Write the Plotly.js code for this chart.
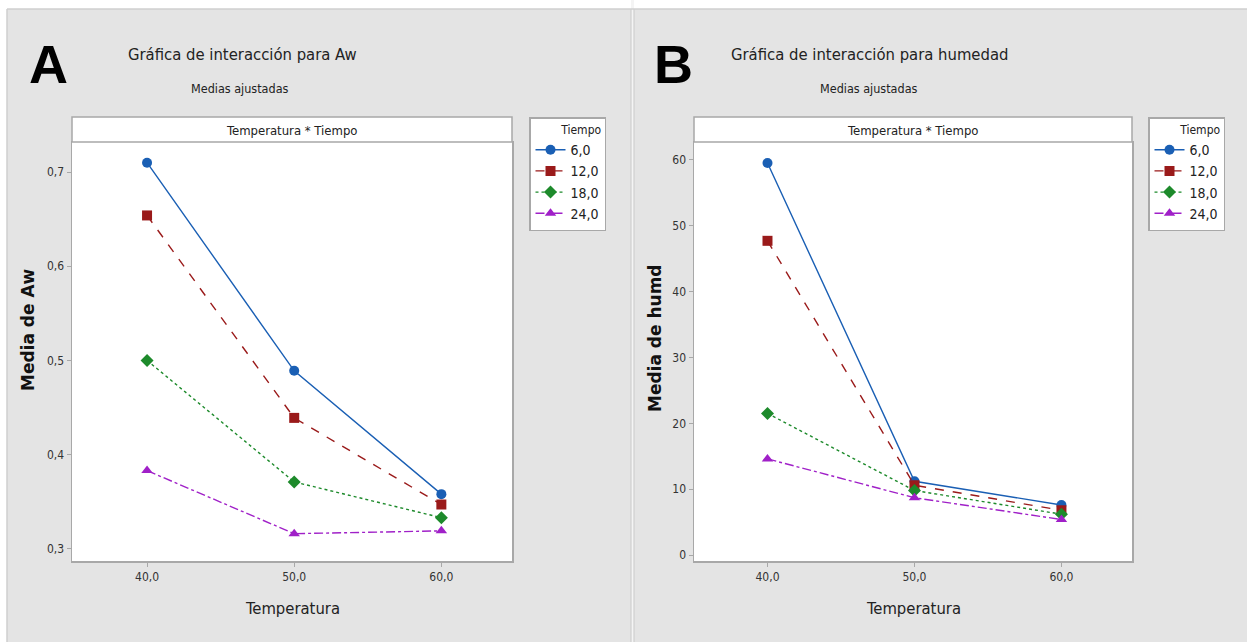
<!DOCTYPE html>
<html>
<head>
<meta charset="utf-8">
<script src="https://cdn.plot.ly/plotly-3.0.1.min.js"></script>
<style>html,body{margin:0;padding:0;background:#fff;}#chart{width:1247px;height:642px;}</style>
</head>
<body>
<div id="chart"></div>
<script>
// ---- data ----
const temperatura = [40, 50, 60];
const tiempoLabels = ['6,0', '12,0', '18,0', '24,0'];
const aw6  = [0.710, 0.489, 0.358];
const aw12 = [0.654, 0.439, 0.347];
const aw18 = [0.500, 0.371, 0.333];
const aw24 = [0.383, 0.316, 0.319];
const hum6  = [59.5, 11.2, 7.6];
const hum12 = [47.7, 10.6, 6.8];
const hum18 = [21.5, 9.8, 6.2];
const hum24 = [14.6, 8.7, 5.4];
const xTicks = [40, 50, 60];
const awTicks = [0.3, 0.4, 0.5, 0.6, 0.7];
const humTicks = [0, 10, 20, 30, 40, 50, 60];

// ---- style ----
const W = 1247, H = 642;
const px = v => v / W, py = v => 1 - v / H;
const narrow = 'Liberation Sans Narrow, DejaVu Sans Condensed, Roboto Condensed, Arial Narrow, sans-serif';
const colors = ['#1a5fb4', '#9a1a1a', '#1d8a2b', '#a020c8'];
const symbols = ['circle', 'square', 'diamond', 'triangle-up'];
const dashes = ['solid', 'dash', 'dot', 'dashdot'];
const awSeries = [aw6, aw12, aw18, aw24];
const humSeries = [hum6, hum12, hum18, hum24];

const traces = [];
awSeries.forEach((ys, i) => traces.push({
  x: temperatura, y: ys, xaxis: 'x', yaxis: 'y', type: 'scatter', mode: 'lines+markers',
  name: tiempoLabels[i], legend: 'legend',
  line: {color: colors[i], width: 1.4, dash: dashes[i]},
  marker: {color: colors[i], symbol: symbols[i], size: 10}
}));
humSeries.forEach((ys, i) => traces.push({
  x: temperatura, y: ys, xaxis: 'x2', yaxis: 'y2', type: 'scatter', mode: 'lines+markers',
  name: tiempoLabels[i], legend: 'legend2',
  line: {color: colors[i], width: 1.4, dash: dashes[i]},
  marker: {color: colors[i], symbol: symbols[i], size: 10}
}));

const axisCommon = {
  showline: true, mirror: true, linecolor: '#a8a8a8', linewidth: 1.5,
  ticks: 'outside', ticklen: 4, tickcolor: '#a8a8a8', tickwidth: 1,
  showgrid: false, zeroline: false, fixedrange: true,
  tickfont: {family: narrow, size: 12, color: '#333'}
};
const yDom = [py(561), py(142)];

function ann(text, x, y, size, extra) {
  return Object.assign({text: text, x: px(x), y: py(y), xref: 'paper', yref: 'paper', showarrow: false,
    xanchor: 'center', yanchor: 'middle', font: {family: narrow, size: size, color: '#222'}}, extra || {});
}

const legendCommon = {
  xanchor: 'left', yanchor: 'top',
  bgcolor: '#ffffff', bordercolor: '#a8a8a8', borderwidth: 1.5,
  font: {family: narrow, size: 14, color: '#222'},
  title: {text: 'Tiempo', side: 'top right', font: {family: narrow, size: 12, color: '#222'}},
  itemwidth: 30
};

const layout = {
  width: W, height: H,
  margin: {l: 0, r: 0, t: 0, b: 0},
  paper_bgcolor: '#e4e4e4', plot_bgcolor: '#ffffff',
  separators: ',.',
  showlegend: true,
  xaxis: Object.assign({}, axisCommon, {domain: [px(72), px(512)], range: [34.9, 64.8], tickvals: xTicks, tickformat: '.1f', anchor: 'y'}),
  yaxis: Object.assign({}, axisCommon, {domain: yDom, range: [0.287, 0.732], tickvals: awTicks, tickformat: '.1f', anchor: 'x'}),
  xaxis2: Object.assign({}, axisCommon, {domain: [px(694), px(1132)], range: [35.0, 64.8], tickvals: xTicks, tickformat: '.1f', anchor: 'y2'}),
  yaxis2: Object.assign({}, axisCommon, {domain: yDom, range: [-0.9, 62.7], tickvals: humTicks, tickformat: 'd', anchor: 'x2'}),
  legend: Object.assign({}, legendCommon, {x: px(529), y: py(117)}),
  legend2: Object.assign({}, legendCommon, {x: px(1148), y: py(117)}),
  shapes: [
    {type: 'rect', xref: 'paper', yref: 'paper', x0: 0, x1: 1, y0: py(9), y1: 1, fillcolor: '#ffffff', line: {width: 0}, layer: 'below'},
    {type: 'rect', xref: 'paper', yref: 'paper', x0: 0, x1: px(7), y0: 0, y1: 1, fillcolor: '#ffffff', line: {width: 0}, layer: 'below'},
    {type: 'rect', xref: 'paper', yref: 'paper', x0: px(631), x1: px(634), y0: 0, y1: 1, fillcolor: '#f4f4f4', line: {width: 0}, layer: 'below'},
    {type: 'line', xref: 'paper', yref: 'paper', x0: px(7), x1: px(7), y0: 0, y1: py(9), line: {color: '#cfcfcf', width: 1.5}, layer: 'below'},
    {type: 'line', xref: 'paper', yref: 'paper', x0: px(7), x1: 1, y0: py(9), y1: py(9), line: {color: '#cfcfcf', width: 1.5}, layer: 'below'},
    {type: 'line', xref: 'paper', yref: 'paper', x0: px(631), x1: px(631), y0: 0, y1: py(9), line: {color: '#cfcfcf', width: 1.2}, layer: 'below'},
    {type: 'line', xref: 'paper', yref: 'paper', x0: px(634), x1: px(634), y0: 0, y1: py(9), line: {color: '#cfcfcf', width: 1.2}, layer: 'below'},
    {type: 'rect', xref: 'paper', yref: 'paper', x0: px(72), x1: px(512), y0: py(142), y1: py(117), fillcolor: '#ffffff', line: {color: '#a8a8a8', width: 1.5}},
    {type: 'rect', xref: 'paper', yref: 'paper', x0: px(694), x1: px(1132), y0: py(142), y1: py(117), fillcolor: '#ffffff', line: {color: '#a8a8a8', width: 1.5}}
  ],
  annotations: [
    ann('<b>A</b>', 48, 64, 54, {font: {family: 'Liberation Sans, Arial, sans-serif', size: 54, color: '#000'}}),
    ann('<b>B</b>', 673, 64, 54, {font: {family: 'Liberation Sans, Arial, sans-serif', size: 54, color: '#000'}}),
    ann('Gráfica de interacción para Aw', 242, 55, 16.5),
    ann('Medias ajustadas', 240, 88, 12.5),
    ann('Gráfica de interacción para humedad', 869, 55, 16.5),
    ann('Medias ajustadas', 869, 88, 12.5),
    ann('Temperatura * Tiempo', 292, 130, 13),
    ann('Temperatura * Tiempo', 913, 130, 13),
    ann('Temperatura', 292, 608, 16.5),
    ann('Temperatura', 913, 608, 16.5),
    ann('<b>Media de Aw</b>', 28, 330, 17, {textangle: -90, font: {family: 'DejaVu Sans, sans-serif', size: 17, color: '#111'}}),
    ann('<b>Media de humd</b>', 655, 338, 17, {textangle: -90, font: {family: 'DejaVu Sans, sans-serif', size: 17, color: '#111'}})
  ]
};

Plotly.newPlot('chart', traces, layout, {displayModeBar: false, staticPlot: true});
</script>
</body>
</html>
